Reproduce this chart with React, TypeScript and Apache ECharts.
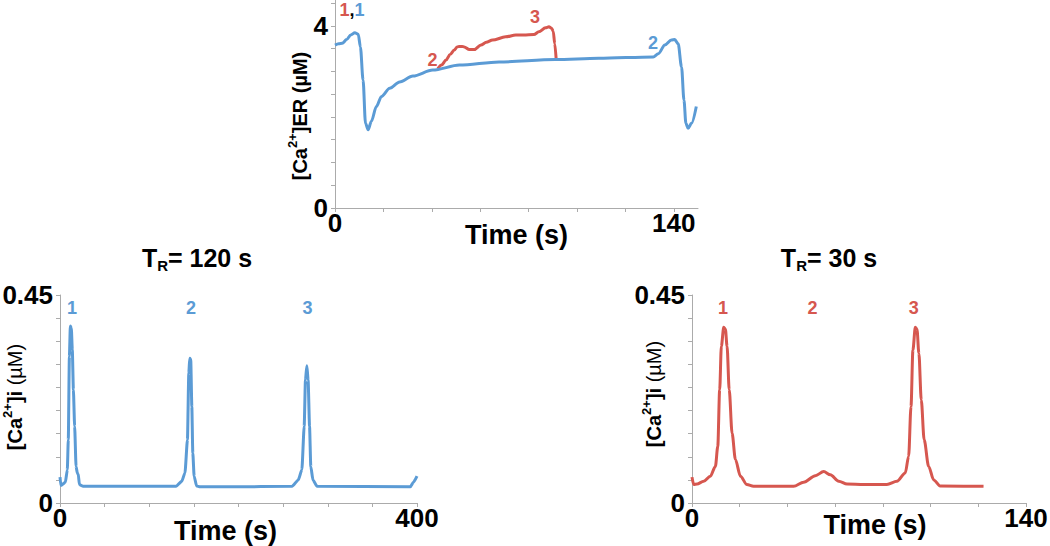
import React, { useEffect, useRef } from 'react';
import * as echarts from 'echarts';

const BLUE = '#5B9BD5';
const RED = '#D6574F';
const AXIS = '#ABABAB';
const FONT = 'Arial, "Liberation Sans", Helvetica, sans-serif';

// ---- Top chart: [Ca2+]ER (uM) vs time (s) ----
const erBlueTime = [0, 1.5, 3, 4.8, 6.5, 8.2, 9.6, 10.5, 11.6, 12.6, 13.7, 15, 17.1, 19.2, 22.6, 26.7, 32.2, 40.4, 51.4, 67.8, 91, 109, 131.5, 133.6, 136.3, 139, 140.4, 141.8, 143.2, 144.2, 145, 145.9, 147.3, 149.3];
const erBlueValues = [3.58, 3.61, 3.62, 3.7, 3.8, 3.85, 3.82, 3.54, 2.81, 1.86, 1.72, 1.9, 2.23, 2.45, 2.63, 2.77, 2.9, 3.03, 3.14, 3.21, 3.26, 3.29, 3.32, 3.39, 3.58, 3.69, 3.7, 3.61, 3.1, 2.37, 1.86, 1.75, 1.86, 2.23];
const erRedTime = [42.5, 44, 45.9, 47.5, 49.3, 50.5, 51.4, 52.5, 53.4, 55.5, 57.5, 60.3, 62.5, 65.1, 70.5, 74.7, 78, 82.2, 84.2, 87, 88.4, 89.5, 90.2, 90.8, 91.4];
const erRedValues = [3.06, 3.14, 3.25, 3.37, 3.47, 3.54, 3.55, 3.55, 3.54, 3.48, 3.48, 3.58, 3.64, 3.69, 3.76, 3.8, 3.8, 3.81, 3.87, 3.96, 3.98, 3.95, 3.88, 3.61, 3.26];
const erXTicks = [0, 20, 40, 60, 80, 100, 120, 140];
const erXLabels = [0, 140];
const erYTicks = [0, 0.5, 1, 1.5, 2, 2.5, 3, 3.5, 4, 4.5];
const erYLabels = [0, 4];

// ---- Bottom left: TR = 120 s, [Ca2+]i (uM) ----
const tr120Time = [0, 1, 6, 8.2, 9.3, 10.5, 11.6, 12.7, 13.8, 15, 16.4, 18, 19.4, 20.5, 21.7, 26, 130, 136.4, 140, 142.8, 144.3, 145.4, 146.5, 147.7, 148.8, 150.3, 153, 157, 190, 260, 267, 271, 273.6, 275, 276.6, 278, 279.6, 281, 283.4, 288, 392.5, 396, 400];
const tr120Values = [0.056, 0.038, 0.045, 0.072, 0.137, 0.317, 0.383, 0.378, 0.331, 0.245, 0.166, 0.079, 0.065, 0.062, 0.04, 0.036, 0.036, 0.047, 0.065, 0.137, 0.281, 0.313, 0.31, 0.209, 0.108, 0.058, 0.037, 0.035, 0.035, 0.036, 0.05, 0.072, 0.166, 0.266, 0.297, 0.266, 0.166, 0.079, 0.05, 0.036, 0.035, 0.045, 0.058];
const tr120XTicks = [0, 50, 100, 150, 200, 250, 300, 350, 400];
const tr120XLabels = [0, 400];

// ---- Bottom right: TR = 30 s, [Ca2+]i (uM) ----
const tr30Time = [0, 0.7, 2.1, 4.9, 7.7, 9.8, 10.8, 11.6, 12.3, 13.3, 14, 14.7, 15.6, 16.8, 18.2, 20.3, 23, 25.8, 42.6, 46.8, 51.7, 55.2, 58, 61.5, 65, 72, 81.7, 85.9, 89.4, 90.8, 91.8, 92.6, 93.6, 94.3, 95.1, 96.1, 97.3, 99.2, 101.3, 104, 122.2];
const tr30Values = [0.056, 0.04, 0.041, 0.047, 0.058, 0.079, 0.122, 0.245, 0.339, 0.38, 0.376, 0.339, 0.245, 0.151, 0.094, 0.058, 0.04, 0.036, 0.036, 0.045, 0.059, 0.068, 0.061, 0.047, 0.041, 0.04, 0.04, 0.047, 0.065, 0.101, 0.209, 0.331, 0.38, 0.376, 0.324, 0.223, 0.137, 0.079, 0.05, 0.037, 0.036];
const tr30XTicks = [0, 20, 40, 60, 80, 100, 120, 140];
const tr30XLabels = [0, 140];

const caYTicks = [0, 0.05, 0.1, 0.15, 0.2, 0.25, 0.3, 0.35, 0.4, 0.45];
const caYLabels = [0, 0.45];

// peak annotations: [time, value, text]
const erBlueMarks: [number, number, string][] = [[131.4, 3.62, '2']];
const erRedMarks: [number, number, string][] = [[40.3, 3.26, '2'], [82.6, 4.19, '3']];
const tr120Marks: [number, number, string][] = [[13.4, 0.422, '1'], [146.8, 0.422, '2'], [277.3, 0.422, '3']];
const tr30Marks: [number, number, string][] = [[13, 0.422, '1'], [50.5, 0.422, '2'], [93, 0.422, '3']];

const zip = (xs: number[], ys: number[]) => xs.map((x, i) => [x, ys[i]]);

const MARK_FONT = 18;

const markItems = (items: [number, number, string][]) =>
  items.map(([t, v, s]) => ({ coord: [t, v], value: s, label: { formatter: s } }));

const marks = (items: [number, number, string][], color: string) => ({
  symbol: 'circle',
  symbolSize: 1,
  itemStyle: { color: 'rgba(0,0,0,0)' },
  silent: true,
  label: {
    show: true,
    position: 'inside',
    color,
    fontFamily: FONT,
    fontWeight: 'bold',
    fontSize: MARK_FONT,
  },
  data: markItems(items),
});

const xAxisDef = (gridIndex: number, max: number, ticks: number[], labels: number[], namePad: number[], nameGap: number) => ({
  type: 'value',
  gridIndex,
  min: 0,
  max,
  axisLine: { show: true, onZero: false, lineStyle: { color: AXIS, width: 1 } },
  axisTick: { show: true, length: 4, customValues: ticks, lineStyle: { color: AXIS } },
  axisLabel: { customValues: labels, margin: 2, fontFamily: FONT, fontWeight: 'bold', fontSize: 26, color: '#000' },
  splitLine: { show: false },
  name: 'Time (s)',
  nameLocation: 'middle',
  nameGap,
  nameMoveOverlap: false,
  nameTextStyle: { fontFamily: FONT, fontWeight: 'bold', fontSize: 27, color: '#000', padding: namePad },
});

const yAxisDef = (gridIndex: number, max: number, ticks: number[], labels: number[]) => ({
  type: 'value',
  gridIndex,
  min: 0,
  max,
  axisLine: { show: true, onZero: false, lineStyle: { color: AXIS, width: 1 } },
  axisTick: { show: true, length: 4, customValues: ticks, lineStyle: { color: AXIS } },
  axisLabel: { customValues: labels, margin: 7, fontFamily: FONT, fontWeight: 'bold', fontSize: 26, color: '#000' },
  splitLine: { show: false },
});

const yTitle = (x: number, y: number, mid: string, tailWeight: string) => ({
  type: 'text',
  x,
  y,
  rotation: Math.PI / 2,
  style: {
    text: `{a|[Ca}{s|2+}{a|]${mid}}{t| (µM)}`,
    align: 'center',
    verticalAlign: 'middle',
    fill: '#000',
    rich: {
      a: { fontFamily: FONT, fontWeight: 'bold', fontSize: 20, lineHeight: 28, fill: '#000' },
      s: { fontFamily: FONT, fontWeight: 'bold', fontSize: 13, lineHeight: 13, verticalAlign: 'top', fill: '#000' },
      t: { fontFamily: FONT, fontWeight: tailWeight, fontSize: 20, lineHeight: 28, fill: '#000' },
    },
  },
});

const trTitle = (x: number, y: number, value: string) => ({
  type: 'text',
  x,
  y,
  style: {
    text: `{t|T}{r|R}{t|= ${value} s}`,
    align: 'center',
    verticalAlign: 'middle',
    fill: '#000',
    rich: {
      t: { fontFamily: FONT, fontWeight: 'bold', fontSize: 25, lineHeight: 30, fill: '#000' },
      r: { fontFamily: FONT, fontWeight: 'bold', fontSize: 15, lineHeight: 15, verticalAlign: 'bottom', fill: '#000' },
    },
  },
});

const lineStyleFor = (color: string) => ({ color, width: 3 });

export default function App() {
  const ref = useRef<HTMLDivElement>(null);
  useEffect(() => {
    if (!ref.current) return;
    const chart = echarts.init(ref.current, undefined, { renderer: 'svg' });
    chart.setOption({
      animation: false,
      backgroundColor: '#fff',
      grid: [
        { left: 335, top: 0, width: 363, height: 208, containLabel: false, outerBoundsMode: 'none' },
        { left: 60, top: 295, width: 357, height: 208, containLabel: false, outerBoundsMode: 'none' },
        { left: 692, top: 295, width: 334, height: 208, containLabel: false, outerBoundsMode: 'none' },
      ],
      xAxis: [
        xAxisDef(0, 150, erXTicks, erXLabels, [0, 0, 0, 0], 13),
        xAxisDef(1, 400, tr120XTicks, tr120XLabels, [0, 26, 0, 0], 14),
        xAxisDef(2, 140, tr30XTicks, tr30XLabels, [0, 0, 0, 32], 8),
      ],
      yAxis: [
        yAxisDef(0, 4.57, erYTicks, erYLabels),
        yAxisDef(1, 0.45, caYTicks, caYLabels),
        yAxisDef(2, 0.45, caYTicks, caYLabels),
      ],
      graphic: [
        yTitle(300, 116, 'ER', 'bold'),
        yTitle(15, 397, 'i', 'normal'),
        yTitle(654, 394, 'i', 'normal'),
        trTitle(197, 258, '120'),
        trTitle(829, 258, '30'),
      ],
      series: [
        {
          type: 'line',
          name: 'ER TR=30',
          xAxisIndex: 0,
          yAxisIndex: 0,
          data: zip(erRedTime, erRedValues),
          showSymbol: false,
          smooth: 0.3,
          smoothMonotone: 'x',
          lineStyle: lineStyleFor(RED),
          itemStyle: { color: RED },
          z: 2,
          markPoint: marks(erRedMarks, RED),
        },
        {
          type: 'line',
          name: 'ER TR=120',
          xAxisIndex: 0,
          yAxisIndex: 0,
          data: zip(erBlueTime, erBlueValues),
          showSymbol: false,
          smooth: 0.3,
          smoothMonotone: 'x',
          lineStyle: lineStyleFor(BLUE),
          itemStyle: { color: BLUE },
          z: 3,
          markPoint: {
            ...marks(erBlueMarks, BLUE),
            data: [
              ...markItems(erBlueMarks),
              {
                coord: [7, 4.35],
                value: '1,1',
                label: {
                  formatter: '{r|1}{k|,}{b|1}',
                  rich: {
                    r: { color: RED, fontFamily: FONT, fontWeight: 'bold', fontSize: MARK_FONT },
                    k: { color: '#000', fontFamily: FONT, fontWeight: 'bold', fontSize: MARK_FONT },
                    b: { color: BLUE, fontFamily: FONT, fontWeight: 'bold', fontSize: MARK_FONT },
                  },
                },
              },
            ],
          },
        },
        {
          type: 'line',
          name: 'Cyt TR=120',
          xAxisIndex: 1,
          yAxisIndex: 1,
          data: zip(tr120Time, tr120Values),
          showSymbol: false,
          smooth: 0.2,
          smoothMonotone: 'x',
          lineStyle: lineStyleFor(BLUE),
          itemStyle: { color: BLUE },
          markPoint: marks(tr120Marks, BLUE),
        },
        {
          type: 'line',
          name: 'Cyt TR=30',
          xAxisIndex: 2,
          yAxisIndex: 2,
          data: zip(tr30Time, tr30Values),
          showSymbol: false,
          smooth: 0.3,
          smoothMonotone: 'x',
          lineStyle: lineStyleFor(RED),
          itemStyle: { color: RED },
          markPoint: marks(tr30Marks, RED),
        },
      ],
    });
    return () => chart.dispose();
  }, []);
  return (
    <div
      ref={ref}
      style={{ position: 'fixed', left: 0, top: 0, width: 1050, height: 546, background: '#fff' }}
    />
  );
}
